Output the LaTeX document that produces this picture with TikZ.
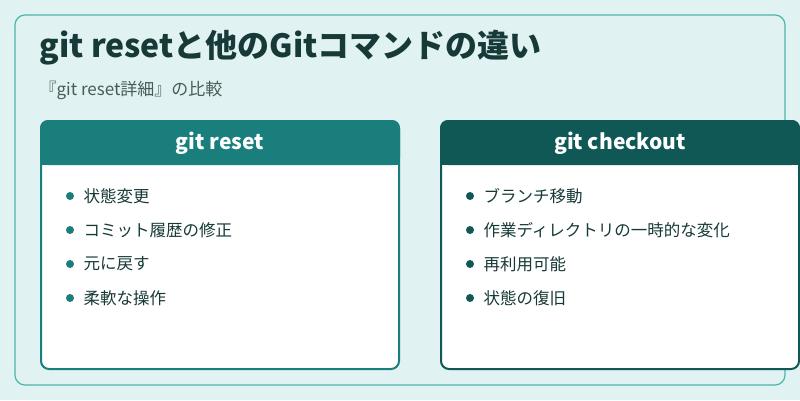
\documentclass[tikz,border=0pt]{standalone}
\usepackage{fontspec}
\setmainfont{Noto Sans CJK JP}
\usepackage{xcolor}
\definecolor{bgteal}{HTML}{E0F2F1}
\definecolor{frameteal}{HTML}{4DB6AC}
\definecolor{headA}{HTML}{1A7F7C}
\definecolor{headB}{HTML}{0F5855}
\definecolor{titlec}{HTML}{173A38}
\definecolor{subc}{HTML}{4A5A58}
\tikzset{
  card/.style={draw=#1, line width=2pt, fill=white, rounded corners=8pt},
  bullet/.style={circle, fill=#1, inner sep=0pt, minimum size=8pt},
  item/.style={anchor=west, font=\fontsize{16.5}{19}\selectfont, text=titlec},
  head/.style={font=\fontsize{21}{24}\selectfont\bfseries, text=white}
}
\begin{document}
\begin{tikzpicture}[x=1pt,y=-1pt]
        \useasboundingbox (0,0) rectangle (800,400);
        \fill[bgteal] (0,0) rectangle (800,400);
        \draw[frameteal, line width=1.2pt, rounded corners=10pt] (15,15) rectangle (785,385);

        \node[anchor=west, font=\fontsize{32}{36}\selectfont\bfseries, text=titlec] (title) at (36,48) {git resetと他のGitコマンドの違い};
        \node[anchor=west, font=\fontsize{17}{20}\selectfont, text=subc] (sub) at (36,90) {『git reset詳細』の比較};

        % left card
        \draw[card=headA] (41,121) rectangle (399,369);
        \fill[headA, rounded corners=8pt] (40,120) rectangle (400,165);
        \fill[headA] (40,150) rectangle (400,165);
        \node[head] (hA) at (220,143) {git reset};
        \foreach \t [count=\i] in {状態変更, コミット履歴の修正, 元に戻す, 柔軟な操作} {
            \node[bullet=headA] (bA\i) at (70,{196+34*(\i-1)}) {};
            \node[item] (tA\i) at (80,{196+34*(\i-1)}) {\t};
        }

        % right card
        \draw[card=headB] (441,121) rectangle (799,369);
        \fill[headB, rounded corners=8pt] (440,120) rectangle (800,165);
        \fill[headB] (440,150) rectangle (800,165);
        \node[head] (hB) at (620,143) {git checkout};
        \foreach \t [count=\i] in {ブランチ移動, 作業ディレクトリの一時的な変化, 再利用可能, 状態の復旧} {
            \node[bullet=headB] (bB\i) at (470,{196+34*(\i-1)}) {};
            \node[item] (tB\i) at (480,{196+34*(\i-1)}) {\t};
        }
\end{tikzpicture}
\end{document}
